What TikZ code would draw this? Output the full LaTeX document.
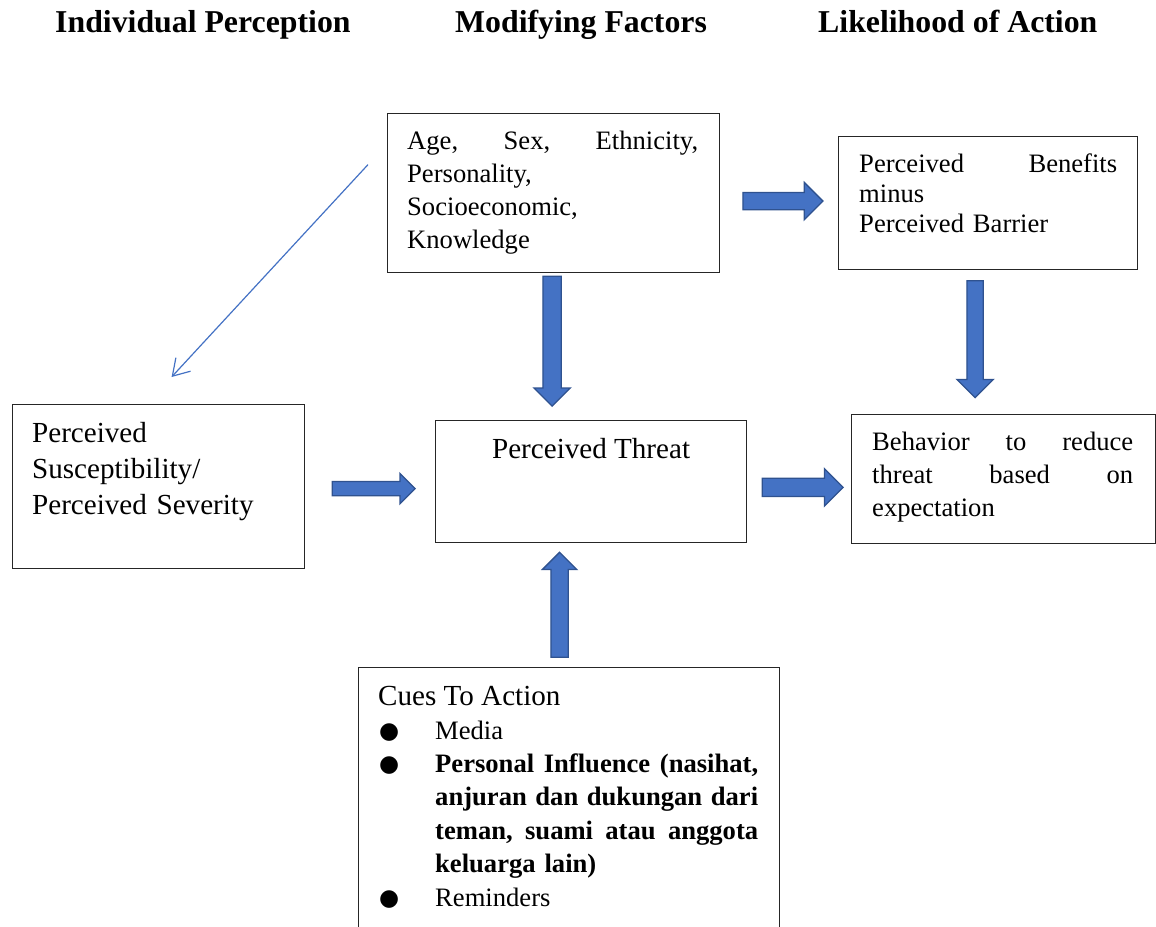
\documentclass[tikz,border=0pt]{standalone}
\usepackage{fontspec}
\setmainfont{Liberation Serif}
\newfontfamily\dejavu{DejaVu Sans}
\usepackage{tikz}
\usetikzlibrary{arrows.meta,shapes.arrows,calc}
\definecolor{arrowblue}{HTML}{4472C4}
\definecolor{arrowedge}{HTML}{2F528F}
\newcommand{\bodyfont}{\fontsize{26.6}{33}\selectfont}
\newcommand{\bigfont}{\fontsize{29.1}{36}\selectfont}
\newcommand{\itm}[1]{\makebox[55pt][l]{\hspace*{-1pt}\raisebox{1pt}{\dejavu\fontsize{23}{23}\selectfont ●}}#1}

\begin{document}
\begin{tikzpicture}[x=1pt,y=-1pt,
      box node/.style={rectangle,draw=black!85,line width=1.2pt,inner sep=0pt,anchor=north west},
      text node/.style={inner sep=0pt,anchor=base west,align=left},
      head node/.style={inner sep=0pt,anchor=base west,font=\fontsize{31.8}{38}\selectfont\bfseries},
      block arrow/.style={single arrow,draw=arrowedge,fill=arrowblue,line width=1.3pt,
        single arrow head indent=0pt,single arrow tip angle=90}]

      \useasboundingbox (0,0) rectangle (1156,926);
      \clip (0,0) rectangle (1156,926);

      \node[head node] (hperc) at (55,32) {Individual Perception};
      \node[head node] (hmod) at (455,32) {Modifying Factors};
      \node[head node] (hlike) at (818,32) {Likelihood of Action};

      \node[box node,minimum width=332,minimum height=159] (fac) at (387,113) {};
      \node[text node,text width=291,font=\bodyfont] (factxt) at ($(fac.north west)+(20,36)$)
        {Age,\hfill Sex,\hfill Ethnicity,\\Personality,\\Socioeconomic,\\Knowledge};

      \node[box node,minimum width=299,minimum height=133] (ben) at (838,136) {};
      \node[text node,text width=258,font=\fontsize{26.6}{30}\selectfont] (bentxt) at ($(ben.north west)+(21,36)$)
        {Perceived\hfill Benefits\\minus\\Perceived Barrier};

      \node[box node,minimum width=292,minimum height=164] (per) at (12,404) {};
      \node[text node,text width=260,font=\bigfont] (pertxt) at ($(per.north west)+(20,38)$)
        {Perceived\\Susceptibility/\\Perceived Severity};

      \node[box node,minimum width=311,minimum height=122] (thr) at (435,420) {};
      \node[inner sep=0pt,anchor=base,font=\bigfont] (thrtxt) at ($(thr.north)+(0,38)$) {Perceived Threat};

      \node[box node,minimum width=304,minimum height=129] (beh) at (851,414) {};
      \node[text node,text width=261,font=\bodyfont] (behtxt) at ($(beh.north west)+(21,36)$)
        {Behavior\hfill to\hfill reduce\\threat\hfill based\hfill on\\expectation};

      \node[box node,minimum width=421,minimum height=280] (cues) at (358,667) {};
      \node[text node,font=\bigfont] (cuestxt) at ($(cues.north west)+(20,38)$) {Cues To Action};
      \node[text node,text width=378,font=\fontsize{26.6}{33.4}\selectfont] (cueslist) at ($(cues.north west)+(22,72)$)
        {\itm{Media}\\
         \itm{{\bfseries Personal\hfill Influence\hfill (nasihat,}}\\
         \hspace*{55pt}{\bfseries anjuran\hfill dan\hfill dukungan\hfill dari}\\
         \hspace*{55pt}{\bfseries teman,\hfill suami\hfill atau\hfill anggota}\\
         \hspace*{55pt}{\bfseries keluarga lain)}\\
         \itm{Reminders}};

      \node[block arrow,minimum height=80,inner xsep=0pt,inner ysep=8pt,single arrow head extend=10pt]
        (a1) at ($(fac.east)!.5!(ben.west)+(-0.5,3)$) {};
      \node[block arrow,minimum height=130,inner ysep=0pt,inner xsep=8.5pt,single arrow head extend=9pt,shape border rotate=270]
        (a2) at ($(fac.south)!.5!(fac.south |- thr.north)+(-1.5,-10)$) {};
      \node[block arrow,minimum height=117,inner ysep=0pt,inner xsep=7.5pt,single arrow head extend=10pt,shape border rotate=270]
        (a3) at ($(ben.south)!.5!(ben.south |- beh.north)+(-13,-7)$) {};
      \node[block arrow,minimum height=83,inner xsep=0pt,inner ysep=6.5pt,single arrow head extend=8pt]
        (a4) at ($(per.east)!.5!(thr.west)+(0,4.5)$) {};
      \node[block arrow,minimum height=81,inner xsep=0pt,inner ysep=8.5pt,single arrow head extend=9.5pt]
        (a5) at ($(thr.east)!.5!(beh.west)+(-1,7)$) {};
      \node[block arrow,minimum height=105,inner ysep=0pt,inner xsep=8pt,single arrow head extend=8.5pt,shape border rotate=90]
        (a6) at ($(cues.north)!.5!(cues.north |- thr.south)+(-9.5,4)$) {};

      \draw[arrowblue,line width=1.2pt,-{Straight Barb[length=16pt,width=20pt]}]
        ($(fac.west)+(-19,-28.5)$) -- ($(per.north)+(13,-27)$);
    \end{tikzpicture}
\end{document}
